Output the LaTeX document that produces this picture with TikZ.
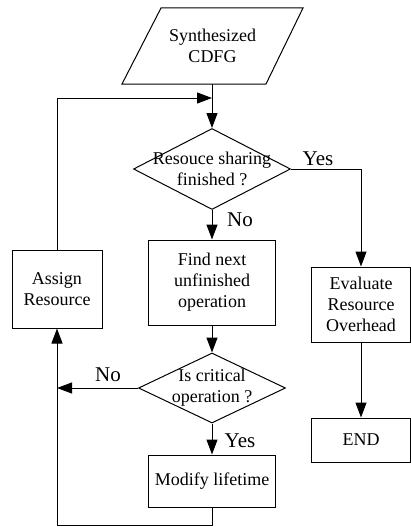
\documentclass[tikz,border=0pt]{standalone}
\usepackage{fontspec}
\setmainfont{Liberation Serif}
\usetikzlibrary{arrows.meta,shapes.geometric}
\begin{document}
\begin{tikzpicture}[x=1pt,y=-1pt,
  line width=1pt,
  arr/.style={-{Triangle[length=15pt,width=11pt]}},
  box/.style={draw,rectangle,inner sep=0pt,align=center,font=\fontsize{18}{21}\selectfont},
  dia/.style={draw,diamond,inner sep=0pt},
  txt/.style={align=center,font=\fontsize{18}{21}\selectfont,inner sep=0pt},
  lab/.style={font=\fontsize{21}{24}\selectfont,inner sep=0pt}]
\useasboundingbox (0,0) rectangle (411,527);

% input parallelogram
\draw (161,8) -- (303,8) -- (266,84) -- (122,84) -- cycle;
\node[txt] (cdfg) at (212.5,46) {Synthesized\\CDFG};
\coordinate (cdfgb) at (212,84);

% decision 1
\node[dia, minimum width=157pt, minimum height=81pt] (d1) at (212,169) {};
\node[txt] (d1t) at (212,169) {Resouce sharing\\finished ?};

% boxes
\node[box, minimum width=127pt, minimum height=85pt] (find) at (212,282.5) {Find next\\unfinished\\operation};
\node[box, minimum width=90pt, minimum height=78pt] (assign) at (57,289) {Assign\\Resource};
\node[box, minimum width=99pt, minimum height=75pt] (eval) at (361,304.5) {Evaluate\\Resource\\Overhead};
\node[box, minimum width=99pt, minimum height=44pt] (end) at (361,440) {END};

% decision 2
\node[dia, minimum width=147pt, minimum height=70pt] (d2) at (212,388) {};
\node[txt] (d2t) at (212,388) {Is critical\\operation ?};

\node[box, minimum width=127pt, minimum height=52pt] (mod) at (212,481) {Modify lifetime};

% helper coordinates
\coordinate (fb) at (212,98);
\coordinate (jn) at (57,388);

% connectors
\draw[arr] (cdfgb) -- (d1.north);
\draw[arr] (d1.south) -- (find.north);
\draw[arr] (d1.east) -| (eval.north);
\draw[arr] (find.south) -- (d2.north);
\draw[arr] (d2.south) -- (mod.north);
\draw[arr] (d2.west) -- (jn);
\draw[arr] (mod.south) -- ++(0,18) -| (assign.south);
\draw[arr] (assign.north) |- (fb);
\draw[arr] (eval.south) -- (end.north);

% labels
\node[lab] (ly1) at (318,159) {Yes};
\node[lab] (ln1) at (240,220) {No};
\node[lab] (ln2) at (108,375) {No};
\node[lab] (ly2) at (240,441) {Yes};
\end{tikzpicture}
\end{document}
